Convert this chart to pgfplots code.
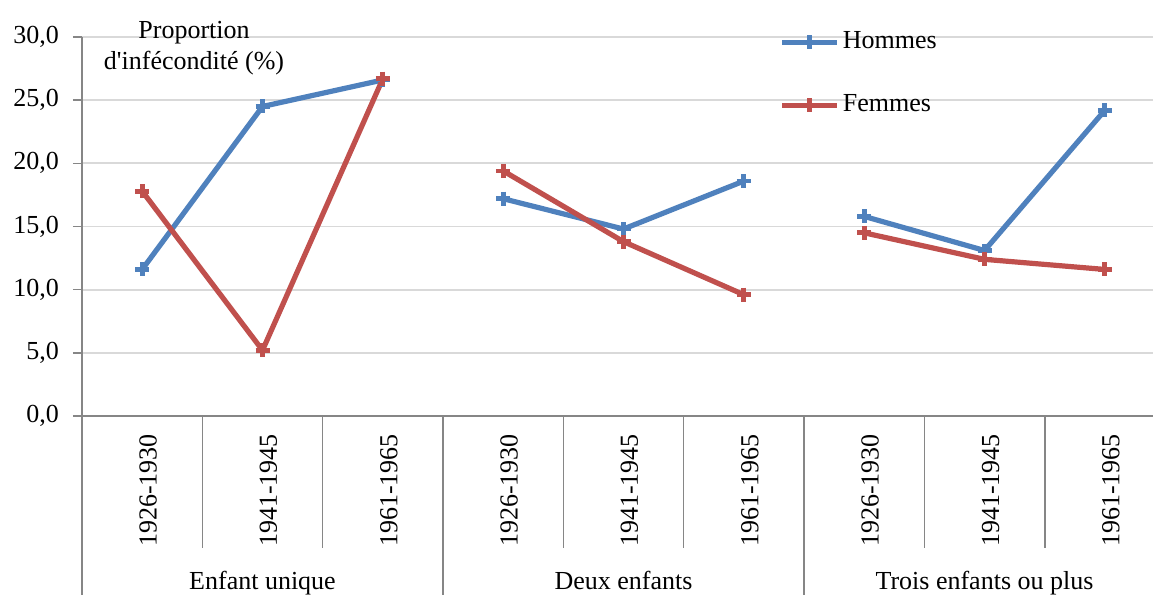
\documentclass[border=0pt]{standalone}
\usepackage{pgfplots}
\pgfplotsset{compat=1.18}
\usepackage{fontspec}
\setmainfont{Liberation Serif}

\definecolor{hommes}{RGB}{79,129,189}
\definecolor{femmes}{RGB}{192,80,77}
\definecolor{gridgray}{RGB}{217,217,217}
\definecolor{axisgray}{RGB}{134,134,134}

\begin{document}
\fontsize{13}{15.6}\selectfont%
\begin{tikzpicture}
\begin{axis}[
  at={(41pt,89.5pt)}, anchor=south west,
  scale only axis, width=535.5pt, height=189.5pt,
  xmin=-0.5, xmax=8.4, ymin=0, ymax=30,
  clip=false,
  axis lines*=left,
  axis line style={axisgray, line width=0.8pt},
  ytick={0,5,...,30},
  ymajorgrids, grid style={gridgray, line width=0.9pt},
  tick align=outside,
  major tick length=4.5pt,
  ytick style={axisgray, line width=0.8pt},
  xtick style={draw=none},
  yticklabel style={xshift=-2.5pt},
  /pgf/number format/.cd, fixed, fixed zerofill, precision=1, use comma, assume math mode=true,
  /pgfplots/.cd,
  xtick={0,...,8},
  xticklabels={1926-1930,1941-1945,1961-1965,1926-1930,1941-1945,1961-1965,1926-1930,1941-1945,1961-1965},
  xticklabel style={rotate=90, anchor=east, yshift=-3pt},
  unbounded coords=jump,
  legend cell align=left,
  legend style={draw=none, fill=none, inner sep=0pt, at={(axis cs:5.294,27.1)}, anchor=west, row sep=17pt,
    nodes={inner xsep=1.5pt}},
  legend image code/.code={\draw[mark repeat=2, mark phase=2] plot coordinates {(0pt,0pt) (13.75pt,0pt) (27.5pt,0pt)};},
]
% Hommes
\addplot[hommes, line width=2.6pt, mark=+, mark size=3.5pt, mark options={line width=2.4pt}]
  coordinates {(0,11.6) (1,24.5) (2,26.6) (2.5,nan)
               (3,17.2) (4,14.8) (5,18.6) (5.5,nan)
               (6,15.8) (7,13.1) (8,24.2)};
\addlegendentry{Hommes}
% Femmes
\addplot[femmes, line width=2.6pt, mark=+, mark size=3.5pt, mark options={line width=2.4pt}]
  coordinates {(0,17.8) (1,5.2) (2,26.7) (2.5,nan)
               (3,19.4) (4,13.8) (5,9.6) (5.5,nan)
               (6,14.5) (7,12.4) (8,11.6)};
\addlegendentry{Femmes}

% category separators below the axis
\pgfplotsinvokeforeach{0.5,1.5,3.5,4.5,6.5,7.5}{
  \draw[axisgray, line width=0.8pt] (axis cs:#1,0) -- (axis cs:#1,-10.45);
}
\pgfplotsinvokeforeach{-0.5,2.5,5.5}{
  \draw[axisgray, line width=0.8pt] (axis cs:#1,0) -- (axis cs:#1,-14.3);
}

% group names
\node[anchor=base] at (axis cs:1,-13.77) {Enfant unique};
\node[anchor=base] at (axis cs:4,-13.77) {Deux enfants};
\node[anchor=base] at (axis cs:7,-13.77) {Trois enfants ou plus};

% axis title
\node[anchor=base, inner sep=0pt] at (axis cs:0.431,29.9) {Proportion};
\node[anchor=base, inner sep=0pt] at (axis cs:0.431,27.4) {d\textquotesingle inf\'econdit\'e (\%)};
\end{axis}
\pgfresetboundingbox
\useasboundingbox (0,0) rectangle (576.5pt,297.5pt);
\end{tikzpicture}
\end{document}
